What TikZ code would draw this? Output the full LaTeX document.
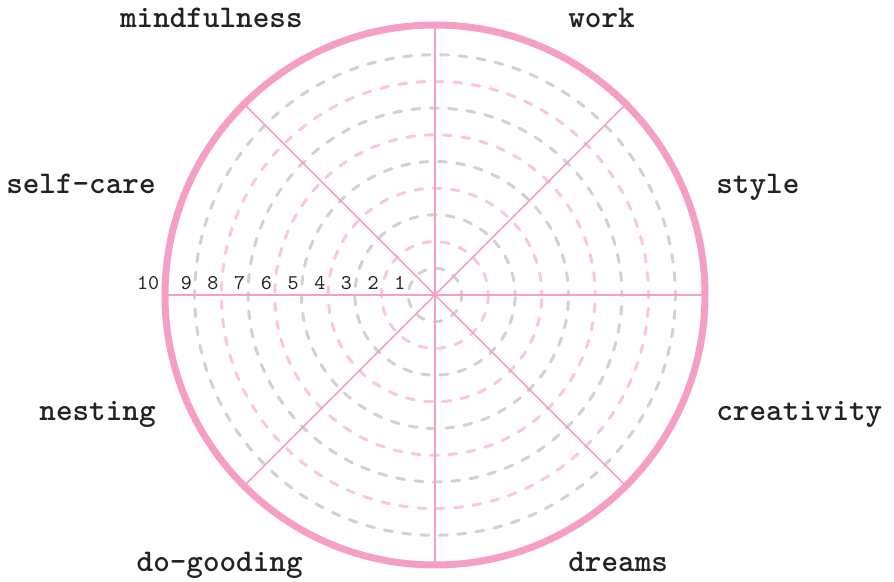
\documentclass[tikz,border=0pt]{standalone}
\usepackage{fontspec}
\definecolor{wheelpink}{HTML}{F49FC3}
\definecolor{ringpink}{HTML}{F9C8DA}
\definecolor{ringgray}{HTML}{D2D2D2}
\definecolor{wheelink}{HTML}{222222}

\begin{document}
\begin{tikzpicture}[
  x=0.5pt, y=0.5pt,
  rim/.style   = {draw=wheelpink, line width=3.5pt},
  spoke/.style = {draw=wheelpink, line width=0.75pt},
  ring/.style  = {line width=1.5pt, line cap=round,
                  dash pattern=on 4pt off 5.2pt, dash phase=2pt},
  tick/.style  = {font=\ttfamily\fontsize{10.5}{10.5}\selectfont, inner sep=0pt,
                  anchor=base east, text=wheelink},
  area/.style  = {font=\ttfamily\bfseries\fontsize{15.8}{16}\selectfont,
                  inner sep=0pt, text=wheelink},
]
\useasboundingbox (-435,-287) rectangle (459,295);
\coordinate (c) at (0,0);
% score rings
\foreach \k/\col in {1/ringgray,2/ringpink,3/ringgray,4/ringpink,5/ringgray,
                     6/ringpink,7/ringgray,8/ringpink,9/ringgray}
  \draw[ring, draw=\col] (c) circle[radius=26.7*\k];
% spokes
\foreach \a in {0,45,...,315} {
  \coordinate (s\a) at (\a:268);
  \draw[spoke] (c) -- (s\a);
}
\draw[rim] (c) circle[radius=270];
% scale
\foreach \k in {1,...,9}
  \node[tick] (n\k) at (-26.7*\k-2.5,5) {\k};
\node[tick] (n10) at (-275.5,5) {10};
% areas
\node[area, anchor=base east] (mindfulness) at (-132,267)  {mindfulness};
\node[area, anchor=base west] (work)        at (133,267)   {work};
\node[area, anchor=base west] (style)       at (281,101)   {style};
\node[area, anchor=base east] (selfcare)    at (-279,101)  {self-care};
\node[area, anchor=base east] (nesting)     at (-279,-126) {nesting};
\node[area, anchor=base west] (creativity)  at (281,-126)  {creativity};
\node[area, anchor=base east] (dogooding)   at (-132,-277) {do-gooding};
\node[area, anchor=base west] (dreams)      at (133,-277)  {dreams};
\end{tikzpicture}
\end{document}
